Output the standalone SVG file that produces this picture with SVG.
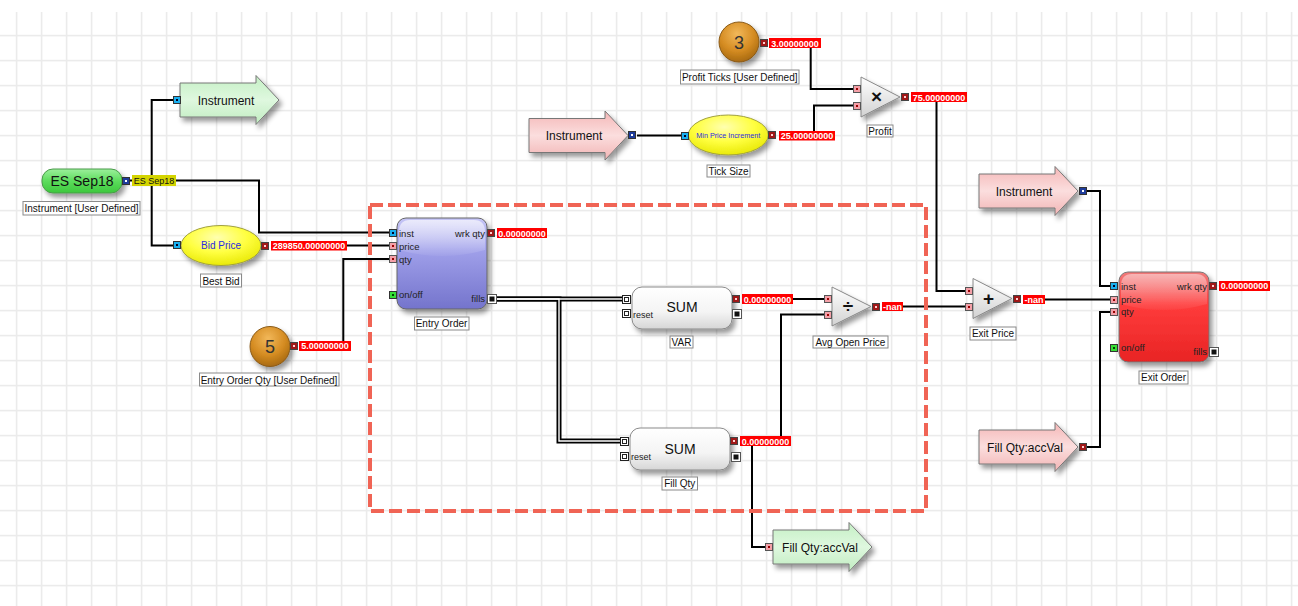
<svg xmlns="http://www.w3.org/2000/svg" xmlns:xlink="http://www.w3.org/1999/xlink" width="1298" height="606" viewBox="0 0 1298 606">
<style>
text{font-family:"Liberation Sans",Arial,sans-serif;}
.cap{fill:#fff;stroke:#8a8a8a;stroke-width:1;}
.capt{font-size:10px;fill:#111;text-anchor:middle;}
.val{fill:#ff0000;}
.valt{font-size:9px;font-weight:bold;fill:#fff;text-anchor:middle;}
.pl{font-size:9.5px;fill:#222;}
.plr{font-size:9.5px;fill:#222;text-anchor:end;}
.arrt{font-size:12px;fill:#111;text-anchor:middle;}
.wire{fill:none;stroke:#000;stroke-width:2;}
.dblo{fill:none;stroke:#000;stroke-width:5;}
.dbli{fill:none;stroke:#fff;stroke-width:1.4;}
.tri{fill:url(#gTri);stroke:#888;stroke-width:1;filter:url(#sh);}
.op{font-size:19px;font-weight:bold;fill:#111;text-anchor:middle;}
.sum{fill:url(#gSum);stroke:#8a8a8a;stroke-width:1;filter:url(#sh);}
.sumt{font-size:14px;fill:#111;text-anchor:middle;}
.num{font-size:18px;fill:#333;text-anchor:middle;}
.circ{fill:url(#gOr);stroke:#8a5a18;stroke-width:1;filter:url(#sh);}
.ell{fill:url(#gYel);stroke:#a0a040;stroke-width:1;filter:url(#sh);}
.ellt{fill:#2a2ae0;text-anchor:middle;}
</style>
<defs>
<pattern id="grid" x="0" y="0" width="25" height="25" patternUnits="userSpaceOnUse">
<rect x="15.8" y="0" width="1.6" height="25" fill="#ebebeb"/>
<rect x="0" y="9.8" width="25" height="1.6" fill="#ebebeb"/>
</pattern>
<filter id="sh" x="-20%" y="-20%" width="150%" height="160%">
<feDropShadow dx="3" dy="4" stdDeviation="2.5" flood-color="#000" flood-opacity="0.4"/>
</filter>
<linearGradient id="gGreenArr" x1="0" y1="0" x2="0" y2="1">
<stop offset="0" stop-color="#c4efc4"/><stop offset="0.5" stop-color="#dff8df"/><stop offset="1" stop-color="#c0ecc0"/>
</linearGradient>
<linearGradient id="gPinkArr" x1="0" y1="0" x2="0" y2="1">
<stop offset="0" stop-color="#f4b6b6"/><stop offset="0.5" stop-color="#fbdede"/><stop offset="1" stop-color="#f2b4b4"/>
</linearGradient>
<linearGradient id="gES" x1="0" y1="0" x2="0" y2="1">
<stop offset="0" stop-color="#9cf09c"/><stop offset="0.5" stop-color="#5cdc5c"/><stop offset="1" stop-color="#3cc83c"/>
</linearGradient>
<radialGradient id="gOr" cx="0.45" cy="0.3" r="0.7">
<stop offset="0" stop-color="#f2b85a"/><stop offset="0.6" stop-color="#d58c22"/><stop offset="1" stop-color="#a86a10"/>
</radialGradient>
<radialGradient id="gYel" cx="0.45" cy="0.3" r="0.75">
<stop offset="0" stop-color="#ffffb0"/><stop offset="0.5" stop-color="#ffff40"/><stop offset="1" stop-color="#e6e600"/>
</radialGradient>
<linearGradient id="gTri" x1="0" y1="0" x2="0" y2="1">
<stop offset="0" stop-color="#ffffff"/><stop offset="1" stop-color="#d2d2d2"/>
</linearGradient>
<linearGradient id="gSum" x1="0" y1="0" x2="0" y2="1">
<stop offset="0" stop-color="#ffffff"/><stop offset="0.6" stop-color="#f4f4f4"/><stop offset="1" stop-color="#d6d6d6"/>
</linearGradient>
<linearGradient id="gEntry" x1="0" y1="0" x2="0" y2="1">
<stop offset="0" stop-color="#c6c6f6"/><stop offset="0.35" stop-color="#a0a0ea"/><stop offset="1" stop-color="#7474cc"/>
</linearGradient>
<linearGradient id="gExit" x1="0" y1="0" x2="0" y2="1">
<stop offset="0" stop-color="#f07a7a"/><stop offset="0.35" stop-color="#ff3c3c"/><stop offset="1" stop-color="#e82424"/>
</linearGradient>
<linearGradient id="gGloss" x1="0" y1="0" x2="0" y2="1">
<stop offset="0" stop-color="#fff" stop-opacity="0.65"/><stop offset="1" stop-color="#fff" stop-opacity="0.05"/>
</linearGradient>
<path id="arr" d="M0,-17 H76 V-24.5 L99,0 L76,24.5 V17 H0 Z"/>
<g id="pDR"><rect x="0.5" y="0.5" width="7" height="7" fill="#a01818" stroke="#444"/><rect x="3" y="3" width="2" height="2" fill="#ffd0d0"/></g>
<g id="pDB"><rect x="0.5" y="0.5" width="7" height="7" fill="#1e3c9c" stroke="#333"/><rect x="3" y="3" width="2" height="2" fill="#fff"/></g>
<g id="pCY"><rect x="0.5" y="0.5" width="7" height="7" fill="#1ab0f0" stroke="#333"/><rect x="3" y="3" width="2" height="2" fill="#002"/></g>
<g id="pPK"><rect x="0.5" y="0.5" width="7" height="7" fill="#f4a0a8" stroke="#555"/><rect x="3" y="3" width="2" height="2" fill="#900"/></g>
<g id="pGR"><rect x="0.5" y="0.5" width="7" height="7" fill="#36de36" stroke="#333"/><rect x="3" y="3" width="2" height="2" fill="#040"/></g>
<g id="pW"><rect x="0.5" y="0.5" width="8" height="8" fill="#fff" stroke="#222"/><rect x="2.5" y="2.5" width="4" height="4" fill="#fff" stroke="#222"/></g>
<g id="pB"><rect x="0.5" y="0.5" width="9" height="9" fill="#fff" stroke="#555"/><rect x="2.5" y="2.5" width="5" height="5" fill="#111"/></g>
</defs>

<rect x="0" y="0" width="1298" height="606" fill="#fff"/>
<rect x="0" y="12" width="1298" height="594" fill="url(#grid)"/>

<g id="connectors">
<path class="wire" d="M130,180.5 H151.7"/>
<path class="wire" d="M173,100 H151.7 V245.5 H173"/>
<path class="wire" d="M176,180.5 H259 V232.5 H389"/>
<path class="wire" d="M347,245.5 H389"/>
<path class="wire" d="M351,345.5 H343.3 V259 H389"/>
<path class="dblo" d="M496,299 H622"/>
<path class="dblo" d="M496,299 H559 V441 H620"/>
<path class="dbli" d="M496,299 H622"/>
<path class="dbli" d="M496,299 H559 V441 H620"/>
<path class="wire" d="M793,299 H824"/>
<path class="wire" d="M781,436 V314.5 H824"/>
<path class="wire" d="M752,446 V547 H765"/>
<path class="wire" d="M903,306.5 H965"/>
<path class="wire" d="M936.5,101.5 V291 H965"/>
<path class="wire" d="M810.7,47.5 V89 H853"/>
<path class="wire" d="M814,131 V105.5 H853"/>
<path class="wire" d="M637,135.5 H681"/>
<path class="wire" d="M1045,299.5 H1110"/>
<path class="wire" d="M1087,191 H1100 V286 H1110"/>
<path class="wire" d="M1087,447 H1100 V312 H1110"/>
</g>

<rect id="group-box" x="370" y="205" width="556" height="306" fill="none" stroke="#f06455" stroke-width="4" stroke-dasharray="13,5"/>

<g id="es-sep18">
<rect x="42" y="169" width="80" height="24" rx="11" fill="url(#gES)" stroke="#4a9a4a" filter="url(#sh)"/>
<text x="82" y="186" font-size="14" text-anchor="middle" fill="#111">ES Sep18</text>
<use xlink:href="#pDB" x="122" y="177"/>
<rect x="132" y="175" width="44" height="11" fill="#d4d400"/>
<text x="154" y="183.7" font-size="9" text-anchor="middle" fill="#111">ES Sep18</text>
<rect class="cap" x="23" y="201.5" width="117" height="13.5"/>
<text class="capt" x="81.5" y="212">Instrument [User Defined]</text>
</g>

<g id="instrument-out">
<use xlink:href="#arr" x="180" y="100" fill="url(#gGreenArr)" stroke="#777" stroke-width="1" filter="url(#sh)"/>
<text class="arrt" x="226" y="104.5">Instrument</text>
<use xlink:href="#pCY" x="173" y="96"/>
</g>

<g id="best-bid">
<ellipse class="ell" cx="221" cy="245.5" rx="40" ry="20"/>
<text class="ellt" x="221" y="249" font-size="10">Bid Price</text>
<use xlink:href="#pCY" x="173" y="241"/>
<use xlink:href="#pDR" x="261" y="242"/>
<rect class="val" x="271" y="241" width="76" height="9.5"/>
<text class="valt" x="309" y="249">289850.00000000</text>
<rect class="cap" x="200.5" y="274" width="41" height="13"/>
<text class="capt" x="221" y="284.5">Best Bid</text>
</g>

<g id="entry-qty">
<circle class="circ" cx="270" cy="346.5" r="20"/>
<text class="num" x="270" y="353">5</text>
<use xlink:href="#pDR" x="290" y="342"/>
<rect class="val" x="299" y="341" width="52" height="10"/>
<text class="valt" x="325" y="349.3">5.00000000</text>
<rect class="cap" x="199.5" y="373" width="139.5" height="13"/>
<text class="capt" x="269" y="383.5">Entry Order Qty [User Defined]</text>
</g>

<g id="entry-order">
<rect x="397" y="218" width="90" height="91" rx="9" fill="url(#gEntry)" stroke="#666" filter="url(#sh)"/>
<path d="M399,232 Q399,220 410,220 H474 Q485,220 485,232 V250 Q442,262 399,250 Z" fill="url(#gGloss)"/>
<use xlink:href="#pCY" x="389" y="229"/>
<use xlink:href="#pPK" x="389" y="242"/>
<use xlink:href="#pPK" x="389" y="255"/>
<use xlink:href="#pGR" x="389" y="291"/>
<text class="pl" x="399" y="236.5">inst</text>
<text class="pl" x="399" y="249.5">price</text>
<text class="pl" x="399" y="262.5">qty</text>
<text class="pl" x="399" y="298">on/off</text>
<text class="plr" x="485" y="236.5">wrk qty</text>
<text class="plr" x="485" y="302">fills</text>
<use xlink:href="#pDR" x="487" y="229"/>
<use xlink:href="#pB" x="487" y="294"/>
<rect class="val" x="497" y="228" width="50" height="10"/>
<text class="valt" x="522" y="236.5">0.00000000</text>
<rect class="cap" x="414.5" y="317" width="54.5" height="13"/>
<text class="capt" x="441.5" y="327">Entry Order</text>
</g>

<g id="var-sum">
<rect class="sum" x="632" y="287" width="100" height="42" rx="10"/>
<text class="sumt" x="682" y="312">SUM</text>
<text x="633" y="318" font-size="9" fill="#222">reset</text>
<use xlink:href="#pW" x="622" y="295"/>
<use xlink:href="#pW" x="622" y="309"/>
<use xlink:href="#pDR" x="732" y="295"/>
<use xlink:href="#pB" x="732" y="309"/>
<rect class="val" x="742" y="294" width="51" height="10"/>
<text class="valt" x="767.5" y="302.5">0.00000000</text>
<rect class="cap" x="670" y="336" width="23" height="12"/>
<text class="capt" x="681.5" y="345.5">VAR</text>
</g>

<g id="fill-qty-sum">
<rect class="sum" x="630" y="428" width="100" height="42" rx="10"/>
<text class="sumt" x="680" y="454">SUM</text>
<text x="631" y="460" font-size="9" fill="#222">reset</text>
<use xlink:href="#pW" x="620" y="437"/>
<use xlink:href="#pW" x="620" y="452"/>
<use xlink:href="#pDR" x="730" y="437"/>
<use xlink:href="#pB" x="731" y="452"/>
<rect class="val" x="740" y="436" width="51" height="10"/>
<text class="valt" x="765.5" y="444.5">0.00000000</text>
<rect class="cap" x="662" y="477" width="35.5" height="13"/>
<text class="capt" x="679.7" y="487">Fill Qty</text>
</g>

<g id="fill-qty-out">
<use xlink:href="#arr" x="773" y="547" fill="url(#gGreenArr)" stroke="#777" stroke-width="1" filter="url(#sh)"/>
<text class="arrt" x="820" y="551.5">Fill Qty:accVal</text>
<use xlink:href="#pPK" x="765" y="543"/>
</g>

<g id="avg-open-price">
<polygon class="tri" points="832,287 871,306.5 832,326"/>
<text class="op" x="848" y="312.5">÷</text>
<use xlink:href="#pPK" x="824" y="295"/>
<use xlink:href="#pPK" x="824" y="311"/>
<use xlink:href="#pDR" x="872" y="303"/>
<rect class="val" x="882" y="302" width="21" height="9"/>
<text class="valt" x="892.5" y="310">-nan</text>
<rect class="cap" x="813" y="336" width="75" height="12"/>
<text class="capt" x="850.5" y="345.5">Avg Open Price</text>
</g>

<g id="instrument-in">
<use xlink:href="#arr" x="529" y="135.5" fill="url(#gPinkArr)" stroke="#777" stroke-width="1" filter="url(#sh)"/>
<text class="arrt" x="574" y="140">Instrument</text>
<use xlink:href="#pDB" x="628" y="131"/>
</g>

<g id="tick-size">
<ellipse class="ell" cx="728.3" cy="135" rx="40" ry="20"/>
<text class="ellt" x="728.3" y="137.8" font-size="7.2">Min Price Increment</text>
<use xlink:href="#pCY" x="681" y="132"/>
<use xlink:href="#pDR" x="768" y="131"/>
<rect class="val" x="779" y="131" width="56" height="9.5"/>
<text class="valt" x="807" y="139">25.00000000</text>
<rect class="cap" x="707" y="165" width="43" height="12"/>
<text class="capt" x="728.5" y="174.5">Tick Size</text>
</g>

<g id="profit-ticks">
<circle class="circ" cx="739" cy="42" r="20"/>
<text class="num" x="739" y="48.5">3</text>
<use xlink:href="#pDR" x="760" y="39"/>
<rect class="val" x="769" y="38" width="52" height="10"/>
<text class="valt" x="795" y="46.5">3.00000000</text>
<rect class="cap" x="680.5" y="70" width="118.5" height="14"/>
<text class="capt" x="739.7" y="81">Profit Ticks [User Defined]</text>
</g>

<g id="profit">
<polygon class="tri" points="861,77 900,97 861,117"/>
<text class="op" x="876.5" y="103">×</text>
<use xlink:href="#pPK" x="853" y="85"/>
<use xlink:href="#pPK" x="853" y="102"/>
<use xlink:href="#pDR" x="901" y="93"/>
<rect class="val" x="911" y="92" width="56" height="10"/>
<text class="valt" x="939" y="100.5">75.00000000</text>
<rect class="cap" x="867" y="125" width="26" height="12"/>
<text class="capt" x="880" y="134.5">Profit</text>
</g>

<g id="exit-price">
<polygon class="tri" points="973,278.5 1012,298.5 973,318.5"/>
<text class="op" x="988.5" y="305">+</text>
<use xlink:href="#pPK" x="965" y="287"/>
<use xlink:href="#pPK" x="965" y="303"/>
<use xlink:href="#pDR" x="1013" y="295"/>
<rect class="val" x="1023" y="295" width="22" height="9"/>
<text class="valt" x="1034" y="303">-nan</text>
<rect class="cap" x="970" y="327" width="46" height="13"/>
<text class="capt" x="993" y="337">Exit Price</text>
</g>

<g id="instrument-in-2">
<use xlink:href="#arr" x="979" y="191" fill="url(#gPinkArr)" stroke="#777" stroke-width="1" filter="url(#sh)"/>
<text class="arrt" x="1024" y="195.5">Instrument</text>
<use xlink:href="#pDB" x="1079" y="187"/>
</g>

<g id="fill-qty-in">
<use xlink:href="#arr" x="979" y="447" fill="url(#gPinkArr)" stroke="#777" stroke-width="1" filter="url(#sh)"/>
<text class="arrt" x="1025" y="451.5">Fill Qty:accVal</text>
<use xlink:href="#pDR" x="1079" y="443"/>
</g>

<g id="exit-order">
<rect x="1119" y="272" width="90" height="90" rx="9" fill="url(#gExit)" stroke="#777" filter="url(#sh)"/>
<path d="M1121,286 Q1121,274 1132,274 H1196 Q1207,274 1207,286 V304 Q1164,316 1121,304 Z" fill="url(#gGloss)" opacity="0.7"/>
<use xlink:href="#pCY" x="1110" y="282"/>
<use xlink:href="#pPK" x="1110" y="296"/>
<use xlink:href="#pPK" x="1110" y="308"/>
<use xlink:href="#pGR" x="1110" y="344"/>
<text class="pl" x="1121" y="289.5">inst</text>
<text class="pl" x="1121" y="302.5">price</text>
<text class="pl" x="1121" y="315">qty</text>
<text class="pl" x="1121" y="351">on/off</text>
<text class="plr" x="1207" y="289.5">wrk qty</text>
<text class="plr" x="1207" y="355">fills</text>
<use xlink:href="#pDR" x="1209" y="282"/>
<use xlink:href="#pB" x="1209" y="347"/>
<rect class="val" x="1219" y="281" width="51" height="10"/>
<text class="valt" x="1244.5" y="289.3">0.00000000</text>
<rect class="cap" x="1139" y="371" width="49" height="13"/>
<text class="capt" x="1163.5" y="381">Exit Order</text>
</g>
</svg>
